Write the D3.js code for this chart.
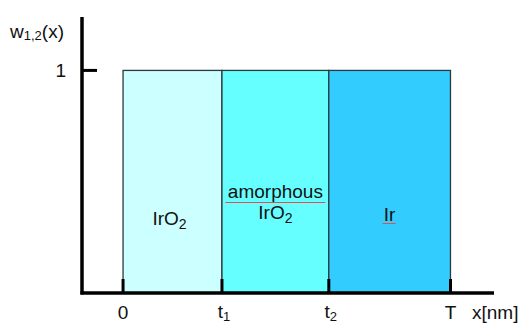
<!DOCTYPE html>
<html>
<head>
<meta charset="utf-8">
<script src="https://cdn.jsdelivr.net/npm/d3@7"></script>
<style>
body { margin: 0; background: #fff; }
text { font-family: "Liberation Sans", Arial, sans-serif; fill: #111; }
</style>
</head>
<body>
<svg id="chart" width="521" height="324"></svg>
<script>
// layer names, boundaries along x (arbitrary nm units) and weight value
var layers = ["IrO2", "amorphous IrO2", "Ir"];
var edges = [0, 10, 20.8, 33.1];
var weight = 1;
var xTicks = [{v: 0, base: "0", sub: ""}, {v: 10, base: "t", sub: "1"}, {v: 20.8, base: "t", sub: "2"}, {v: 33.1, base: "T", sub: ""}];
var colors = ["#ccffff", "#66ffff", "#33ccff"];

var svg = d3.select("#chart")

var x = d3.scaleLinear().domain([-4.15, 37.5]).range([82, 494])
var y = d3.scaleLinear().domain([0, 1.24]).range([293, 17])

// layer blocks
svg.selectAll("rect.layer")
  .data(layers)
  .enter()
  .append("rect")
  .attr("class", "layer")
  .attr("x", function (d, i) { return x(edges[i]) })
  .attr("y", y(weight))
  .attr("width", function (d, i) { return x(edges[i + 1]) - x(edges[i]) })
  .attr("height", y(0) - y(weight))
  .style("fill", function (d, i) { return colors[i] })
  .style("stroke", "#2b3a3a")
  .style("stroke-width", 1.3)

// axes
svg.append("line")
  .attr("x1", x(-4.15)).attr("x2", x(-4.15))
  .attr("y1", y(1.24)).attr("y2", y(0) + 1.5)
  .style("stroke", "#000").style("stroke-width", 3.5)
svg.append("line")
  .attr("x1", x(-4.15) - 1.5).attr("x2", x(37.5))
  .attr("y1", y(0)).attr("y2", y(0))
  .style("stroke", "#000").style("stroke-width", 3.5)

// y tick at 1
svg.append("line")
  .attr("x1", x(-4.15)).attr("x2", 97)
  .attr("y1", y(weight)).attr("y2", y(weight))
  .style("stroke", "#000").style("stroke-width", 3)
svg.append("text")
  .attr("x", 66).attr("y", y(weight) + 7)
  .attr("text-anchor", "end")
  .style("font-size", "19px")
  .text("1")

// x ticks
svg.selectAll("line.xtick")
  .data(xTicks)
  .enter()
  .append("line")
  .attr("class", "xtick")
  .attr("x1", function (d) { return x(d.v) })
  .attr("x2", function (d) { return x(d.v) })
  .attr("y1", y(0) - 14)
  .attr("y2", y(0))
  .style("stroke", "#000").style("stroke-width", 3)

var tl = svg.selectAll("text.xlab")
  .data(xTicks)
  .enter()
  .append("text")
  .attr("class", "xlab")
  .attr("x", function (d) { return x(d.v) + (d.sub ? 2 : 0) })
  .attr("y", function (d) { return d.sub ? 318 : 319 })
  .attr("text-anchor", "middle")
  .style("font-size", "19px")
tl.append("tspan").text(function (d) { return d.base })
tl.append("tspan")
  .attr("dy", 3)
  .style("font-size", "13px")
  .text(function (d) { return d.sub })

svg.append("text")
  .attr("x", 472).attr("y", 319)
  .style("font-size", "19px")
  .text("x[nm]")

// y label
var yl = svg.append("text").attr("x", 10).attr("y", 38).style("font-size", "19px")
yl.append("tspan").text("w")
yl.append("tspan").attr("dy", 2).style("font-size", "13px").text("1,2")
yl.append("tspan").attr("dy", -2).text("(x)")

// layer labels
function centre(i) { return (x(edges[i]) + x(edges[i + 1])) / 2 }

var l1 = svg.append("text").attr("x", centre(0) - 3).attr("y", 225).attr("text-anchor", "middle").style("font-size", "19px")
l1.append("tspan").text("IrO")
l1.append("tspan").attr("dy", 4).style("font-size", "14px").text("2")

svg.append("text").attr("x", centre(1)).attr("y", 198).attr("text-anchor", "middle").style("font-size", "19px").text("amorphous")
svg.append("line")
  .attr("x1", centre(1) - 50).attr("x2", centre(1) + 50)
  .attr("y1", 202.5).attr("y2", 202.5)
  .style("stroke", "#e05050").style("stroke-width", 1)
var l2 = svg.append("text").attr("x", centre(1)).attr("y", 219).attr("text-anchor", "middle").style("font-size", "19px")
l2.append("tspan").text("IrO")
l2.append("tspan").attr("dy", 4).style("font-size", "14px").text("2")

svg.append("text").attr("x", centre(2)).attr("y", 221).attr("text-anchor", "middle").style("font-size", "19px").text("Ir")
svg.append("line")
  .attr("x1", centre(2) - 7).attr("x2", centre(2) + 6)
  .attr("y1", 223.5).attr("y2", 223.5)
  .style("stroke", "#e05050").style("stroke-width", 1)
</script>
</body>
</html>
